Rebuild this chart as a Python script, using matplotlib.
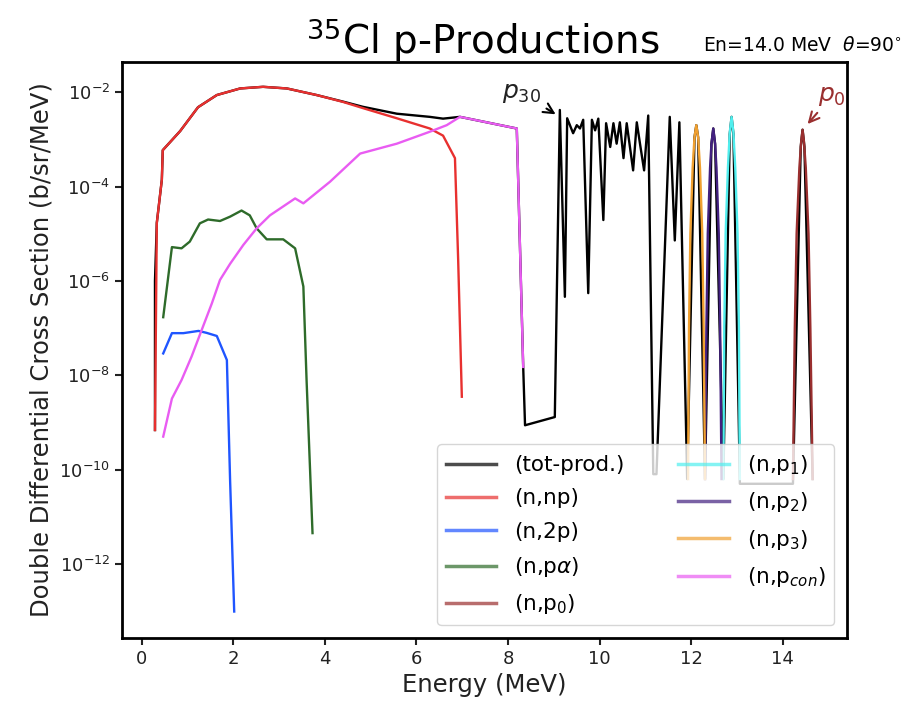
import matplotlib
matplotlib.use('Agg')
import matplotlib.pyplot as plt
import numpy as np

# (tot-prod.)
tot_x = [0.29, 0.29, 0.33, 0.44, 0.46, 0.84, 1.23, 1.64, 2.15, 2.65, 3.17, 3.82, 4.40,
         4.83, 5.57, 6.29, 6.58, 6.95, 8.19, 8.33, 8.37, 9.02,
         9.13, 9.24, 9.29, 9.42, 9.50, 9.57, 9.64, 9.75, 9.83, 9.90, 9.97, 10.08, 10.14,
         10.23, 10.30, 10.37, 10.44, 10.52, 10.59, 10.73, 10.81, 10.88, 10.97, 11.06,
         11.17, 11.24, 11.53, 11.64, 11.74, 11.91,
         12.07, 12.11, 12.15, 12.30, 12.44, 12.48, 12.52, 12.70, 12.84, 12.88, 12.92,
         13.06, 13.06, 14.22, 14.39, 14.43, 14.47, 14.65]
tot_y = [6.9e-10, 1.0e-6, 1.7e-5, 1.4e-4, 5.9e-4, 1.5e-3, 4.8e-3, 8.7e-3, 1.2e-2, 1.3e-2, 1.2e-2, 8.7e-3, 6.3e-3,
         4.9e-3, 3.5e-3, 3.0e-3, 2.75e-3, 3.0e-3, 1.7e-3, 1.5e-8, 8.7e-10, 1.3e-9,
         4.2e-3, 4.6e-7, 2.8e-3, 1.35e-3, 2.0e-3, 1.7e-3, 2.6e-3, 5.5e-7, 2.6e-3, 1.55e-3, 2.75e-3, 1.95e-5, 2.2e-3,
         6.9e-4, 2.2e-3, 8.1e-4, 2.3e-3, 4.0e-4, 2.2e-3, 2.2e-4, 2.3e-3, 8.1e-4, 2.2e-4, 3.2e-3,
         8.0e-11, 8.0e-11, 3.0e-3, 7.2e-6, 2.3e-3, 6.3e-11,
         1.1e-3, 2.0e-3, 1.1e-3, 6.3e-11, 8.0e-4, 1.7e-3, 8.0e-4, 6.3e-11, 1.3e-3, 3.0e-3, 1.3e-3,
         6.3e-11, 5.0e-11, 5.0e-11, 7.0e-4, 1.6e-3, 7.0e-4, 6.3e-11]

# (n,np)
np_x = [0.29, 0.33, 0.44, 0.46, 0.84, 1.23, 1.64, 2.15, 2.65, 3.17, 3.82, 4.40, 4.83,
        5.57, 6.29, 6.58, 6.84, 6.91, 6.99]
np_y = [6.9e-10, 1.7e-5, 1.4e-4, 5.9e-4, 1.5e-3, 4.8e-3, 8.7e-3, 1.2e-2, 1.3e-2, 1.2e-2, 8.7e-3, 6.2e-3, 4.6e-3,
        2.8e-3, 1.7e-3, 1.2e-3, 4.0e-4, 2.8e-6, 3.5e-9]

# (n,2p)
n2p_x = [0.47, 0.66, 0.91, 1.24, 1.42, 1.64, 1.86, 1.93, 2.02]
n2p_y = [2.9e-8, 7.8e-8, 7.8e-8, 8.7e-8, 7.9e-8, 6.8e-8, 2.1e-8, 6.0e-11, 9.8e-14]

# (n,p alpha)
npa_x = [0.47, 0.66, 0.87, 1.05, 1.27, 1.45, 1.71, 1.93, 2.18, 2.36, 2.51, 2.73, 3.09,
         3.35, 3.53, 3.60, 3.73]
npa_y = [1.7e-7, 5.2e-6, 4.9e-6, 6.8e-6, 1.66e-5, 2.0e-5, 1.86e-5, 2.3e-5, 3.1e-5, 2.45e-5, 1.3e-5, 7.6e-6, 7.6e-6,
         4.9e-6, 7.6e-7, 7.9e-9, 4.5e-12]

# discrete levels
p0_x = [14.22, 14.26, 14.30, 14.36, 14.40, 14.43, 14.46, 14.50, 14.56, 14.60, 14.65]
p0_y = [6.3e-11, 1.0e-7, 1.0e-5, 2.5e-4, 9.0e-4, 1.6e-3, 9.0e-4, 2.5e-4, 1.0e-5, 1.0e-7, 6.3e-11]
p1_x = [12.70, 12.72, 12.75, 12.80, 12.84, 12.88, 12.92, 12.96, 13.01, 13.04, 13.06]
p1_y = [6.3e-11, 1.0e-7, 1.0e-5, 2.5e-4, 1.4e-3, 3.0e-3, 1.4e-3, 2.5e-4, 1.0e-5, 1.0e-7, 6.3e-11]
p2_x = [12.30, 12.33, 12.36, 12.41, 12.44, 12.48, 12.52, 12.55, 12.60, 12.63, 12.66]
p2_y = [6.3e-11, 1.0e-7, 1.0e-5, 2.5e-4, 8.0e-4, 1.7e-3, 8.0e-4, 2.5e-4, 1.0e-5, 1.0e-7, 6.3e-11]
p3_x = [11.93, 11.95, 11.98, 12.03, 12.07, 12.11, 12.15, 12.19, 12.24, 12.27, 12.30]
p3_y = [6.3e-11, 1.0e-7, 1.0e-5, 2.5e-4, 1.1e-3, 2.0e-3, 1.1e-3, 2.5e-4, 1.0e-5, 1.0e-7, 6.3e-11]

# (n,p continuum)
pcon_x = [0.47, 0.66, 0.87, 1.09, 1.31, 1.53, 1.71, 1.93, 2.22, 2.51, 2.80, 3.35, 3.53,
          4.11, 4.77, 5.57, 6.29, 6.66, 6.95, 8.19, 8.33]
pcon_y = [5.0e-10, 3.2e-9, 7.9e-9, 2.5e-8, 9.1e-8, 3.3e-7, 1.05e-6, 2.3e-6, 5.8e-6, 1.3e-5, 2.45e-5, 5.6e-5, 4.4e-5,
          1.26e-4, 5.0e-4, 8.1e-4, 1.45e-3, 2.0e-3, 3.0e-3, 1.7e-3, 1.5e-8]

fig = plt.figure(figsize=(9.24, 7.13), dpi=100)
ax = fig.add_axes([122/924, 1 - 638/713, (847-122)/924, (638-62)/713])

lw = 1.7
ax.plot(tot_x, tot_y, color='black', lw=lw, label='(tot-prod.)')
ax.plot(np_x, np_y, color='#e8302f', lw=lw, label='(n,np)')
ax.plot(n2p_x, n2p_y, color='#1f55ff', lw=lw, label='(n,2p)')
ax.plot(npa_x, npa_y, color='#2e6b2a', lw=lw, label=r'(n,p$\alpha$)')
ax.plot(p0_x, p0_y, color='#9a2f2f', lw=lw, label='(n,p$_0$)')
ax.plot(p1_x, p1_y, color='#50eeee', lw=lw, label='(n,p$_1$)')
ax.plot(p2_x, p2_y, color='#42207f', lw=lw, label='(n,p$_2$)')
ax.plot(p3_x, p3_y, color='#f0a030', lw=lw, label='(n,p$_3$)')
ax.plot(pcon_x, pcon_y, color='#e95cf2', lw=lw, label='(n,p$_{con}$)')

ax.set_yscale('log')
ax.set_xlim(-0.43, 15.4)
ax.set_ylim(10**-13.57, 10**-1.36)
ax.set_yticks([1e-2, 1e-4, 1e-6, 1e-8, 1e-10, 1e-12])
ax.yaxis.set_minor_locator(matplotlib.ticker.NullLocator())
ax.set_xticks(np.arange(0, 15, 2))
ax.tick_params(labelsize=13, length=5, width=1.5, colors='#222222')
for s in ax.spines.values():
    s.set_linewidth(2)

ax.set_xlabel('Energy (MeV)', fontsize=17.5, color='#222222')
ax.set_ylabel('Double Differential Cross Section (b/sr/MeV)', fontsize=17.5, color='#222222')

fig.text(0.523, 0.943, r'$^{35}$Cl p-Productions', fontsize=28, ha='center', va='center')
fig.text(0.761, 0.936, r'En=14.0 MeV  $\theta$=90$^{\circ}$', fontsize=13.5, ha='left', va='center')

ax.annotate(r'$p_{30}$', xy=(9.09, 10**-2.5), xytext=(8.3, 10**-2.02), fontsize=18,
            ha='center', va='center', color='#222222',
            arrowprops=dict(arrowstyle='->', color='black', lw=1.5))
ax.annotate(r'$p_0$', xy=(14.5, 10**-2.72), xytext=(15.07, 10**-2.08), fontsize=18,
            ha='center', va='center', color='#9a2f2f',
            arrowprops=dict(arrowstyle='->', color='#9a2f2f', lw=1.5))

leg = ax.legend(loc='lower right', ncol=2, fontsize=15.5, handlelength=2.33, handletextpad=0.84,
                columnspacing=2.5, labelspacing=0.62, borderaxespad=0.6)
for h in leg.legend_handles:
    h.set_linewidth(2.5)
    h.set_alpha(0.7)

fig.savefig('out.png', dpi=100)
